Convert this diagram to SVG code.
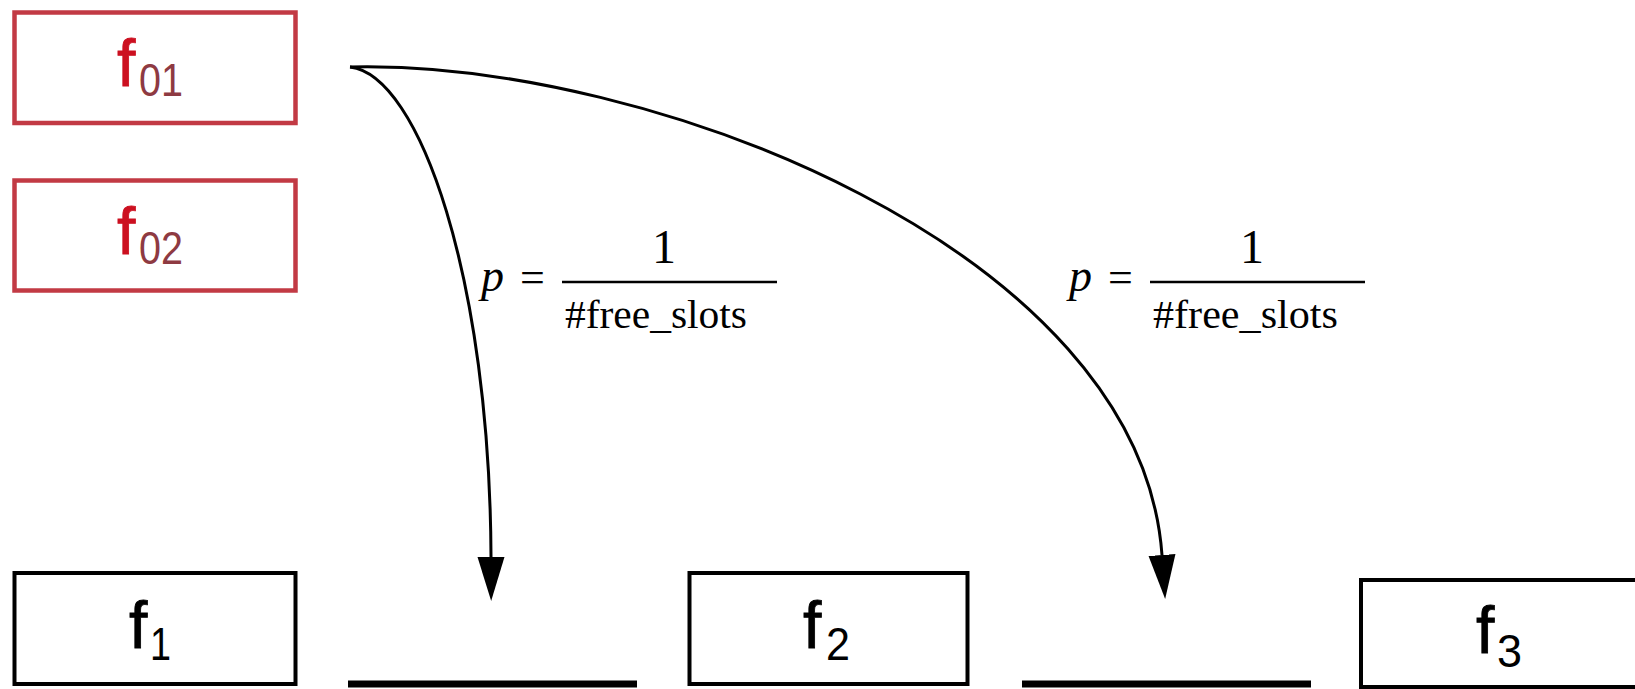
<svg xmlns="http://www.w3.org/2000/svg" width="1635" height="689" viewBox="0 0 1635 689">
<style>
.box{fill:#fff;stroke:#000;stroke-width:4}
.rbox{fill:#fff;stroke:#c23a44;stroke-width:4.5}
.f{font-family:"Liberation Sans",Arial,sans-serif;font-size:66px;fill:#000;stroke:#000;stroke-width:0.8}
.sub{font-family:"Liberation Sans",Arial,sans-serif;font-size:46px;fill:#000}
.rf{fill:#cc1020;stroke:#cc1020}
.rsub{fill:#8e3a42}
.m{font-family:"Liberation Serif","Times New Roman",serif;fill:#000}
.conn{fill:none;stroke:#000;stroke-width:3}
.slot{stroke:#000;stroke-width:7}
.frac{stroke:#000;stroke-width:2.5}
</style>
<defs>
<marker id="arr" markerUnits="userSpaceOnUse" viewBox="0 -14 44 28" refX="0" refY="0" markerWidth="44" markerHeight="28" orient="auto">
<path d="M0,-13.5 L44,0 L0,13.5 z" fill="#000"/>
</marker>
</defs>
<rect width="1635" height="689" fill="#fff"/>
<g id="f01">
<rect class="rbox" x="14.5" y="12.5" width="281" height="110.5"/>
<text class="f rf" x="117" y="86">f</text>
<text class="sub rsub" x="139" y="96" textLength="44" lengthAdjust="spacingAndGlyphs">01</text>
</g>
<g id="f02">
<rect class="rbox" x="14.5" y="180.5" width="281" height="110"/>
<text class="f rf" x="117" y="254">f</text>
<text class="sub rsub" x="139" y="264" textLength="44" lengthAdjust="spacingAndGlyphs">02</text>
</g>
<g id="f1">
<rect class="box" x="14.5" y="573" width="281" height="111"/>
<text class="f" x="129" y="648">f</text>
<text class="sub" x="150" y="660" textLength="21" lengthAdjust="spacingAndGlyphs">1</text>
</g>
<g id="slot1">
<line class="slot" x1="348" y1="684" x2="637" y2="684"/>
</g>
<g id="f2">
<rect class="box" x="689.5" y="573" width="278" height="111"/>
<text class="f" x="803" y="648">f</text>
<text class="sub" x="826" y="660" textLength="24" lengthAdjust="spacingAndGlyphs">2</text>
</g>
<g id="slot2">
<line class="slot" x1="1022" y1="684" x2="1311" y2="684"/>
</g>
<g id="f3">
<rect class="box" x="1361" y="580" width="290" height="107"/>
<text class="f" x="1476" y="653">f</text>
<text class="sub" x="1497" y="667" textLength="25" lengthAdjust="spacingAndGlyphs">3</text>
</g>
<g id="connectors">
<path class="conn" d="M350,67 C420,75 490,280 491,557" marker-end="url(#arr)"/>
<path class="conn" d="M350,67 C650,60 1140,250 1162,555" marker-end="url(#arr)"/>
</g>
<g id="label1">
<text class="m" x="481" y="291" font-size="46" font-style="italic">p</text>
<text class="m" x="520" y="292" font-size="44">=</text>
<line class="frac" x1="562" y1="282" x2="777" y2="282"/>
<text class="m" x="664" y="263" font-size="48" text-anchor="middle">1</text>
<text class="m" x="565" y="328" font-size="40" textLength="182" lengthAdjust="spacingAndGlyphs">#free_slots</text>
</g>
<g id="label2">
<text class="m" x="1069" y="291" font-size="46" font-style="italic">p</text>
<text class="m" x="1108" y="292" font-size="44">=</text>
<line class="frac" x1="1150" y1="282" x2="1365" y2="282"/>
<text class="m" x="1252" y="263" font-size="48" text-anchor="middle">1</text>
<text class="m" x="1153" y="328" font-size="40" textLength="185" lengthAdjust="spacingAndGlyphs">#free_slots</text>
</g>
</svg>
